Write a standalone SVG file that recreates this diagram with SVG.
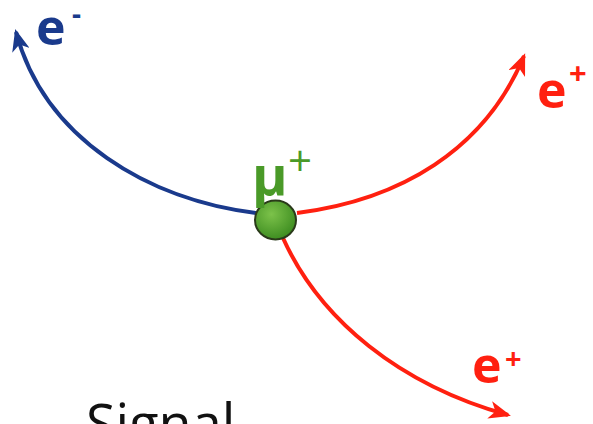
<svg xmlns="http://www.w3.org/2000/svg" width="593" height="424" viewBox="0 0 593 424">
<style>
.lbl{font-family:"Open Sans","DejaVu Sans",sans-serif;font-weight:bold;}
.sup{font-family:"Open Sans","DejaVu Sans",sans-serif;font-weight:bold;}
.trk{fill:none;stroke-width:4;}
</style>
<defs>
<marker id="ab" viewBox="0 0 22 18" refX="19" refY="9" markerWidth="22" markerHeight="18" markerUnits="userSpaceOnUse" orient="auto">
<path d="M0,0 L22,9 L0,18 L6,9 Z" fill="#1a3a8c"/>
</marker>
<marker id="ar" viewBox="0 0 22 18" refX="19" refY="9" markerWidth="22" markerHeight="18" markerUnits="userSpaceOnUse" orient="auto">
<path d="M0,0 L22,9 L0,18 L6,9 Z" fill="#ff2010"/>
</marker>
<radialGradient id="g" cx="0.4" cy="0.35" r="0.7">
<stop offset="0" stop-color="#7cc24a"/>
<stop offset="1" stop-color="#3a8a1e"/>
</radialGradient>
</defs>
<g id="connectors">
<path class="trk" stroke="#1a3a8c" d="M256,213 C150,200 45,140 16,32" marker-end="url(#ab)"/>
<path class="trk" stroke="#ff2010" d="M297,213 C400,200 485,150 524,56" marker-end="url(#ar)"/>
<path class="trk" stroke="#ff2010" d="M283,238 C320,320 400,385 508,415" marker-end="url(#ar)"/>
</g>
<g id="muon">
<ellipse cx="275.5" cy="220" rx="20.5" ry="19.5" fill="url(#g)" stroke="#2a3a1a" stroke-width="2"/>
<text class="lbl" x="252" y="195" font-size="54" fill="#4a9a28">μ</text>
<text x="288" y="176" font-size="42" font-family="'Open Sans','DejaVu Sans',sans-serif" fill="#4a9a28">+</text>
</g>
<g id="electron">
<text class="lbl" x="36" y="45" font-size="50" fill="#1a3a8c">e</text>
<text class="sup" x="72" y="24" font-size="28" fill="#1a3a8c">-</text>
</g>
<g id="positron1">
<text class="lbl" x="537" y="108" font-size="50" fill="#ff2010">e</text>
<text class="sup" x="569" y="84" font-size="31" fill="#ff2010">+</text>
</g>
<g id="positron2">
<text class="lbl" x="472" y="383" font-size="50" fill="#ff2010">e</text>
<text class="sup" x="505" y="369" font-size="29" fill="#ff2010">+</text>
</g>
<text x="86" y="443" font-size="54" font-family="'Open Sans','DejaVu Sans',sans-serif" fill="#111">Signal</text>
</svg>
